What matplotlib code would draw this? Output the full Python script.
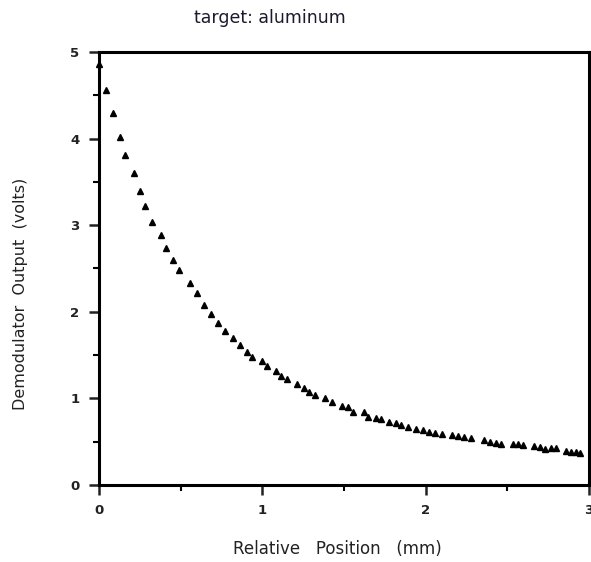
import numpy as np
import matplotlib.pyplot as plt
from matplotlib.ticker import MultipleLocator

# Demodulator output vs relative position, aluminum target
position_mm = [
    0.000, 0.044, 0.087, 0.127, 0.158, 0.213, 0.254, 0.283, 0.325, 0.380,
    0.411, 0.451, 0.492, 0.558, 0.602, 0.643, 0.686, 0.729, 0.769, 0.821,
    0.864, 0.906, 0.937, 0.998, 1.031, 1.084, 1.116, 1.149, 1.210, 1.253,
    1.283, 1.324, 1.385, 1.428, 1.485, 1.522, 1.557, 1.620, 1.650, 1.695,
    1.726, 1.777, 1.818, 1.852, 1.895, 1.940, 1.985, 2.021, 2.058, 2.099,
    2.164, 2.201, 2.235, 2.276, 2.358, 2.393, 2.429, 2.460, 2.533, 2.566,
    2.596, 2.664, 2.698, 2.731, 2.766, 2.796, 2.857, 2.888, 2.919, 2.943,
]
output_volts = [
    4.858, 4.561, 4.292, 4.022, 3.807, 3.599, 3.398, 3.222, 3.040, 2.883,
    2.740, 2.598, 2.483, 2.336, 2.214, 2.082, 1.975, 1.874, 1.778, 1.697,
    1.620, 1.539, 1.475, 1.435, 1.378, 1.320, 1.259, 1.221, 1.170, 1.120,
    1.077, 1.039, 1.001, 0.958, 0.916, 0.897, 0.846, 0.839, 0.789, 0.770,
    0.759, 0.731, 0.712, 0.689, 0.673, 0.647, 0.635, 0.615, 0.604, 0.585,
    0.577, 0.566, 0.558, 0.539, 0.516, 0.493, 0.488, 0.473, 0.473, 0.470,
    0.462, 0.450, 0.435, 0.412, 0.424, 0.424, 0.396, 0.385, 0.378, 0.373,
]

fig = plt.figure(figsize=(5.91, 5.62), dpi=100, facecolor='white')
ax = fig.add_axes([0.1675, 0.137, 0.829, 0.7705])

ax.plot(position_mm, output_volts, linestyle='none', marker='^',
        markersize=4.2, color='black', clip_on=False)

ax.set_xlim(0, 3)
ax.set_ylim(0, 5)
ax.xaxis.set_major_locator(MultipleLocator(1))
ax.xaxis.set_minor_locator(MultipleLocator(0.5))
ax.yaxis.set_major_locator(MultipleLocator(1))
ax.yaxis.set_minor_locator(MultipleLocator(0.5))

for s in ax.spines.values():
    s.set_linewidth(2.2)
ax.tick_params(which='major', direction='out', length=7, width=1.8, pad=7,
               labelsize=9.5, colors='#222222')
ax.tick_params(which='minor', direction='out', length=4, width=1.5)
for lbl in ax.get_xticklabels() + ax.get_yticklabels():
    lbl.set_fontweight('bold')

fig.text(0.457, 0.968, 'target: aluminum', ha='center', va='center',
         fontsize=12.5, color='#1a1a2e')
fig.text(0.571, 0.023, 'Relative   Position   (mm)', ha='center', va='center',
         fontsize=12, color='#222222')
fig.text(0.034, 0.477, 'Demodulator  Output  (volts)', ha='center', va='center',
         rotation=90, fontsize=11.5, color='#222222')

fig.savefig('out.png', dpi=100, facecolor='white')
